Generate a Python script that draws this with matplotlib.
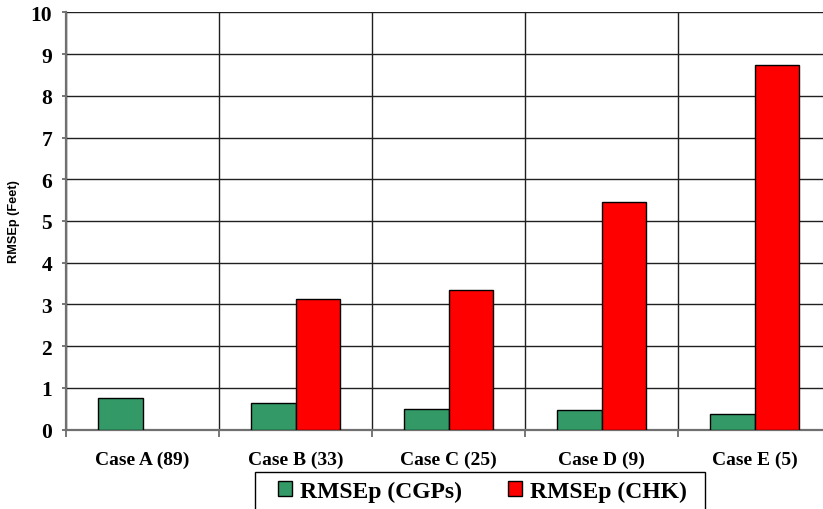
import matplotlib
matplotlib.use("Agg")
import matplotlib.pyplot as plt
from matplotlib.patches import Rectangle
import numpy as np

categories = ["Case A (89)", "Case B (33)", "Case C (25)", "Case D (9)", "Case E (5)"]
rmsep_cgps = [0.75, 0.64, 0.50, 0.47, 0.37]
rmsep_chk = [0.0, 3.12, 3.35, 5.45, 8.73]
series_names = ["RMSEp (CGPs)", "RMSEp (CHK)"]
y_ticks = list(range(0, 11))

fig = plt.figure(figsize=(8.23, 5.10), dpi=100)
ax = fig.add_axes([66/823, (510-430.7)/510, 765/823, 417.4/510])

x = np.arange(len(categories))
w = 0.2876
ax.bar(x - w/2, rmsep_cgps, w, color="#339966", edgecolor="black", linewidth=1.0,
       label=series_names[0], zorder=3)
chk_vals = [v if v > 0 else np.nan for v in rmsep_chk]
ax.bar(x + w/2, chk_vals, w, color="#FF0000", edgecolor="black", linewidth=1.0,
       label=series_names[1], zorder=3)

ax.set_xlim(-0.5, len(categories) - 0.5)
ax.set_ylim(0, 10)
ax.set_yticks(y_ticks)
ax.set_xticks(x)
ax.set_xticklabels(categories)
ax.set_xticks(np.arange(-0.5, len(categories) + 0.5, 1.0), minor=True)

serif = "Liberation Serif"
for lab in ax.get_xticklabels() + ax.get_yticklabels():
    lab.set_fontfamily(serif)
    lab.set_fontweight("bold")
for lab in ax.get_yticklabels():
    lab.set_fontsize(15.5)
for lab in ax.get_xticklabels():
    lab.set_fontsize(14)

ax.tick_params(axis="x", which="major", length=0, pad=15)
ax.tick_params(axis="x", which="minor", length=5, width=1.2, color="#606060", direction="out")
ax.tick_params(axis="y", which="major", length=3, width=1.2, color="#606060", pad=7)

ax.grid(axis="y", which="major", color="#202020", linewidth=1.0, zorder=0)
ax.grid(axis="x", which="minor", color="#202020", linewidth=1.0, zorder=0)
ax.set_axisbelow(True)

for side in ["top", "right"]:
    ax.spines[side].set_visible(False)
for side in ["left", "bottom"]:
    ax.spines[side].set_color("#707070")
    ax.spines[side].set_linewidth(1.6)

ax.set_ylabel("RMSEp (Feet)", fontfamily="Liberation Sans", fontweight="bold", fontsize=9.2)
ax.yaxis.set_label_coords(-46/765, 0.5)

# legend frame (box clipped at the bottom of the image, as in the reference)
fig.patches.append(Rectangle((255/823, -0.02), 450/823, (510-473)/510 + 0.02,
                             transform=fig.transFigure, facecolor="white",
                             edgecolor="black", linewidth=1.0, zorder=5))

leg = fig.legend(loc="center left", bbox_to_anchor=(278/823, 1 - 492/510), ncol=2,
                 prop={"family": serif, "weight": "bold", "size": 17},
                 frameon=False,
                 handlelength=0.59, handleheight=0.59, handletextpad=0.34,
                 columnspacing=1.95, borderpad=0, borderaxespad=0)
leg.set_zorder(6)

fig.savefig("out.png", dpi=100)
